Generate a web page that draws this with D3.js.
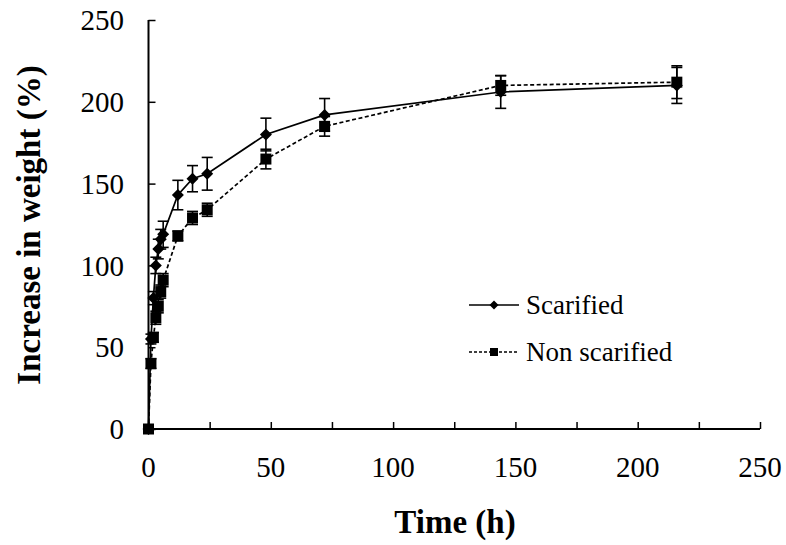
<!DOCTYPE html>
<html>
<head>
<meta charset="utf-8">
<script src="https://cdn.jsdelivr.net/npm/d3@7"></script>
<style>
  html, body { margin: 0; padding: 0; background: #fff; }
</style>
</head>
<body>
<svg id="chart" width="786" height="545"></svg>
<script>
// Sampling times (h) and weight gain (%) with error bars
const times = [0, 1, 2, 3, 4, 5, 6, 12, 18, 24, 48, 72, 144, 216];
const scarified = [0, 55, 80, 100, 110, 116, 119, 143, 153, 156, 180, 192, 206, 210];
const scarifiedErr = [0, 3, 4, 5, 6, 6, 8, 9, 8, 10, 10, 10, 10, 11];
const nonScarified = [0, 40, 56, 68, 75, 84, 91, 118, 129, 134, 165, 185, 210, 212];
const nonScarifiedErr = [0, 3, 3, 4, 4, 4, 4, 3, 4, 4, 6, 6, 6, 10];
const xTicks = [0, 50, 100, 150, 200, 250];
const xMinorTicks = [25, 75, 125, 175, 225];
const yTicks = [0, 50, 100, 150, 200, 250];
const seriesNames = ["Scarified", "Non scarified"];

const FONT = "'Liberation Serif', 'Times New Roman', serif";
const svg = d3.select("#chart");
const x = d3.scaleLinear().domain([0, 250]).range([148.5, 760]);
const y = d3.scaleLinear().domain([0, 250]).range([429, 20]);

// Axes with inward ticks
const yAxis = svg.append("g").attr("transform", `translate(${x(0)},0)`)
  .call(d3.axisRight(y).tickValues(yTicks).tickSize(7).tickFormat(""));
const xAxis = svg.append("g").attr("transform", `translate(0,${y(0)})`)
  .call(d3.axisTop(x).tickValues(xTicks.concat(xMinorTicks)).tickSize(7).tickFormat(""));
[xAxis, yAxis].forEach(g => {
  g.select(".domain").attr("stroke", "#000").attr("stroke-width", 2);
  g.selectAll(".tick line").attr("stroke", "#000").attr("stroke-width", 1.5);
});
yAxis.select(".domain").attr("d", `M0,${y(0)}V${y(250)}`);
xAxis.select(".domain").attr("d", `M${x(0)},0H${x(250)}`);

// Tick labels
svg.append("g").selectAll("text").data(yTicks).join("text")
  .attr("x", 124).attr("y", d => y(d)).attr("dy", "0.35em")
  .attr("text-anchor", "end").attr("font-family", FONT).attr("font-size", 29).text(d => d);
svg.append("g").selectAll("text").data(xTicks).join("text")
  .attr("x", d => x(d)).attr("y", 467).attr("dy", "0.35em")
  .attr("text-anchor", "middle").attr("font-family", FONT).attr("font-size", 29).text(d => d);

// Axis titles
svg.append("text").attr("x", 455).attr("y", 533)
  .attr("text-anchor", "middle").attr("font-family", FONT)
  .attr("font-size", 33).attr("font-weight", "bold")
  .text("Time (h)");
svg.append("text").attr("transform", "translate(40,225) rotate(-90)")
  .attr("text-anchor", "middle").attr("font-family", FONT)
  .attr("font-size", 33).attr("font-weight", "bold")
  .text("Increase in weight (%)");

// Marker shapes: regular diamond (rotated square) and square
const diamondPath = r => `M0,${-r}L${r},0L0,${r}L${-r},0Z`;
const squarePath = h => `M${-h},${-h}H${h}V${h}H${-h}Z`;

function drawSeries(vals, errs, dash, shape) {
  const pts = times.map((t, i) => ({ t, v: vals[i], e: errs[i] }));
  const g = svg.append("g");
  g.append("path").datum(pts)
    .attr("fill", "none").attr("stroke", "#000").attr("stroke-width", 1.7)
    .attr("stroke-dasharray", dash)
    .attr("d", d3.line().x(d => x(d.t)).y(d => y(d.v)));
  const eb = g.selectAll(".eb").data(pts.filter(d => d.e > 0)).join("g");
  eb.append("line").attr("x1", d => x(d.t)).attr("x2", d => x(d.t))
    .attr("y1", d => y(d.v + d.e)).attr("y2", d => y(d.v - d.e))
    .attr("stroke", "#000").attr("stroke-width", 1.6);
  [1, -1].forEach(s => {
    eb.append("line").attr("x1", d => x(d.t) - 5.5).attr("x2", d => x(d.t) + 5.5)
      .attr("y1", d => y(d.v + s * d.e)).attr("y2", d => y(d.v + s * d.e))
      .attr("stroke", "#000").attr("stroke-width", 1.6);
  });
  g.selectAll(".mk").data(pts).join("path")
    .attr("transform", d => `translate(${x(d.t)},${y(d.v)})`)
    .attr("d", shape).attr("fill", "#000");
}

drawSeries(scarified, scarifiedErr, null, diamondPath(6));
drawSeries(nonScarified, nonScarifiedErr, "4,2.5", squarePath(5.5));

// Legend
const legend = svg.append("g");
const rows = [
  { name: seriesNames[0], yy: 305, dash: null, shape: diamondPath(4.5) },
  { name: seriesNames[1], yy: 352, dash: "3,2", shape: squarePath(4) }
];
rows.forEach(r => {
  legend.append("line").attr("x1", 469).attr("x2", 519).attr("y1", r.yy).attr("y2", r.yy)
    .attr("stroke", "#000").attr("stroke-width", 1.3).attr("stroke-dasharray", r.dash);
  legend.append("path").attr("transform", `translate(494,${r.yy})`).attr("d", r.shape).attr("fill", "#000");
  legend.append("text").attr("x", 526).attr("y", r.yy).attr("dy", "0.32em")
    .attr("font-family", FONT).attr("font-size", 27).text(r.name);
});
</script>
</body>
</html>
